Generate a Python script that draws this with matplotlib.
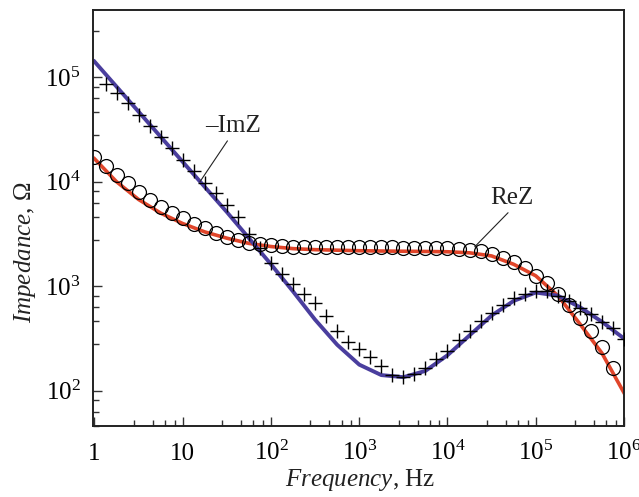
import numpy as np
import matplotlib
matplotlib.use("Agg")
import matplotlib.pyplot as plt

plt.rcParams['font.family'] = 'Liberation Serif'
plt.rcParams['mathtext.fontset'] = 'custom'
plt.rcParams['mathtext.rm'] = 'Liberation Serif'
plt.rcParams['mathtext.it'] = 'Liberation Serif:italic'

# measured points, 8 per decade (log10 of impedance in Ohm)
freq_re = np.logspace(0, 5.875, 48)
re_z_log = [4.24, 4.15, 4.065, 3.985, 3.905, 3.83, 3.76, 3.70, 3.65, 3.60,
            3.555, 3.51, 3.475, 3.445, 3.415, 3.40, 3.39, 3.385, 3.38, 3.378,
            3.376, 3.375, 3.375, 3.374, 3.373, 3.372, 3.372, 3.371, 3.37, 3.37,
            3.37, 3.368, 3.365, 3.36, 3.35, 3.335, 3.31, 3.275, 3.23, 3.17,
            3.10, 3.03, 2.93, 2.82, 2.70, 2.57, 2.42, 2.22]

freq_im = np.logspace(0.125, 6, 48)
im_z_log = [4.94, 4.85, 4.75, 4.64, 4.53, 4.43, 4.32, 4.21, 4.10, 3.99,
            3.89, 3.78, 3.66, 3.50, 3.37, 3.22, 3.12, 3.02, 2.93, 2.84,
            2.72, 2.57, 2.47, 2.40, 2.32, 2.24, 2.15, 2.13, 2.16, 2.22,
            2.30, 2.38, 2.49, 2.57, 2.67, 2.74, 2.82, 2.89, 2.93, 2.95,
            2.95, 2.91, 2.86, 2.79, 2.73, 2.66, 2.60, 2.50]

# fitted curves, read every quarter decade
freq_fit = np.logspace(0, 6, 25)
im_fit_log = [5.15, 4.91, 4.67, 4.43, 4.19, 3.95, 3.71, 3.46, 3.21, 2.95,
              2.68, 2.44, 2.25, 2.15, 2.13, 2.19, 2.34, 2.53, 2.72, 2.86,
              2.94, 2.91, 2.80, 2.66, 2.50]
re_fit_log = [4.22, 4.00, 3.83, 3.70, 3.60, 3.52, 3.46, 3.41, 3.38, 3.36,
              3.35, 3.345, 3.34, 3.337, 3.335, 3.333, 3.33, 3.32, 3.29, 3.21,
              3.10, 2.91, 2.64, 2.36, 1.98]

xticks = [1, 10, 1e2, 1e3, 1e4, 1e5, 1e6]
xticklabels = ['1', '10', '$10^2$', '$10^3$', '$10^4$', '$10^5$', '$10^6$']
yticks = [1e2, 1e3, 1e4, 1e5]
yticklabels = ['$10^2$', '$10^3$', '$10^4$', '$10^5$']
minor_steps = [2.8, 4.6, 6.3, 8.1]

fig = plt.figure(figsize=(6.39, 4.97), dpi=100)
ax = fig.add_axes([93/639, 1-426/497, 531/639, 416/497])

ax.plot(freq_fit, 10**np.array(re_fit_log), color='#e0452a', lw=2.6, zorder=2)
ax.plot(freq_fit, 10**np.array(im_fit_log), color='#4a3e9e', lw=2.8, zorder=2)
ax.plot(freq_re, 10**np.array(re_z_log), 'o', ms=10, mfc='none', mec='black', mew=0.9, zorder=3)
ax.plot(freq_im, 10**np.array(im_z_log), '+', ms=10, color='black', mew=1.0, zorder=3)

ax.set_xscale('log')
ax.set_yscale('log')

ax.set_xticks(xticks, xticklabels)
ax.set_yticks(yticks, yticklabels)
ax.set_xticks([m * 10**d for d in range(0, 6) for m in minor_steps], minor=True)
ax.set_yticks([m * 10**d for d in range(1, 6) for m in minor_steps], minor=True)
ax.xaxis.set_minor_formatter(matplotlib.ticker.NullFormatter())
ax.yaxis.set_minor_formatter(matplotlib.ticker.NullFormatter())
ax.set_xlim(0.962, 1e6)
ax.set_ylim(46, 4.4e5)

ax.tick_params(which='both', direction='in', top=False, right=False, labelsize=18, width=1.0, color='#333333')
ax.tick_params(which='major', length=6.5)
ax.tick_params(which='minor', length=4)
ax.tick_params(axis='x', pad=24.5)
ax.tick_params(axis='y', pad=9)
for lab in ax.get_xticklabels():
    lab.set_va('baseline')
for sp in ax.spines.values():
    sp.set_linewidth(1.4)
    sp.set_color('#222222')

ax.set_xlabel(r'$\mathit{Frequency}$, Hz', fontsize=18, color='#222222')
ax.set_ylabel(r'$\mathit{Impedance}$, Ω', fontsize=18, color='#222222')
ax.xaxis.set_label_coords(0.503, -0.13)
ax.xaxis.label.set_va('center')
ax.yaxis.set_label_coords(-0.128, 0.418)
ax.yaxis.label.set_va('center')

ax.annotate('–ImZ', xy=(10**1.195, 10**4.0), xytext=(10**1.568, 10**4.534),
            fontsize=18, ha='center', va='center', color='#222222',
            arrowprops=dict(arrowstyle='-', lw=0.8, color='#222222', relpos=(0.45, 0), shrinkA=1, shrinkB=0))
ax.annotate('ReZ', xy=(10**4.309, 10**3.378), xytext=(10**4.728, 10**3.845),
            fontsize=18, ha='center', va='center', color='#222222',
            arrowprops=dict(arrowstyle='-', lw=0.8, color='#222222', relpos=(0.5, 0), shrinkA=1, shrinkB=0))

fig.savefig('out.png', dpi=100)
